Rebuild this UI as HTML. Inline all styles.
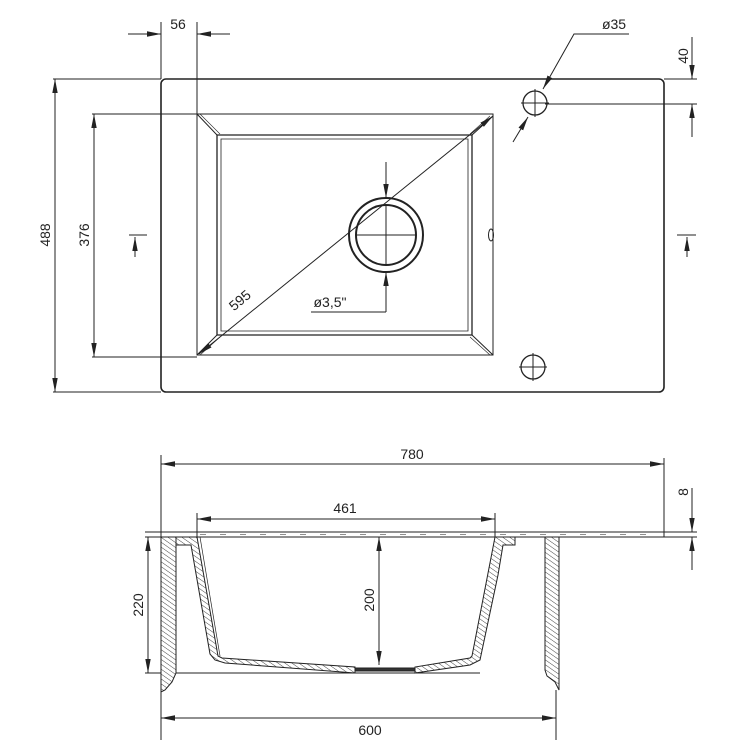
<!DOCTYPE html>
<html><head><style>body{margin:0;background:#fff}svg{display:block}text{font-family:"Liberation Sans",sans-serif;font-size:14px;fill:#222}</style></head>
<body>
<svg width="748" height="751" viewBox="0 0 748 751" xmlns="http://www.w3.org/2000/svg">
<defs>
<marker id="a" viewBox="0 0 14 6" refX="14" refY="3" markerWidth="14" markerHeight="6" markerUnits="userSpaceOnUse" orient="auto-start-reverse"><path d="M0,0.3 L14,3 L0,5.7z" fill="#222"/></marker>
<pattern id="h" width="4" height="4" patternUnits="userSpaceOnUse" patternTransform="rotate(-55)"><rect width="4" height="4" fill="#fff"/><line x1="0" y1="0" x2="0" y2="4" stroke="#444" stroke-width="1"/></pattern>
</defs>
<g stroke="#222" fill="none" stroke-width="1">
<rect x="161" y="79" width="503" height="313" rx="5" stroke-width="1.6"/>
<path d="M197,114 H493 V355 H197 Z"/>
<path d="M217,135 H472 V335 H217 Z" stroke-width="1.3"/>
<path d="M221,139 H468 V331 H221 Z" stroke-width="0.8"/>
<path d="M197,114 L217,135 M493,116 L472,135 M493,355 L472,335 M197,355 L217,335"/>
<path d="M200,114 L220,134 M490,116 L470,134 M490,355 L470,337 M200,355 L220,337" stroke-width="0.6"/>
<circle cx="386" cy="235" r="37" stroke-width="2"/>
<circle cx="386" cy="235" r="30" stroke-width="2"/>
<path d="M356,235 H416 M386,205 V265"/>
<path d="M199,354 L493,116" marker-start="url(#a)" marker-end="url(#a)"/>
<path d="M386,162 V198" marker-end="url(#a)"/>
<path d="M386,312 V272" marker-end="url(#a)"/>
<path d="M311,312 H386"/>
<ellipse cx="491" cy="235" rx="2.5" ry="6"/>
<circle cx="535" cy="103" r="12" stroke-width="1.3"/>
<path d="M521,103 H549 M535,89 V117"/>
<circle cx="533" cy="367" r="12" stroke-width="1.3"/>
<path d="M519,367 H547 M533,353 V381"/>
<path d="M629,34 H574 L543,89" marker-end="url(#a)"/>
<path d="M513,142 L528,117" marker-end="url(#a)"/>
<path d="M664,79 H697 M545,104 H697"/>
<path d="M692,37 V79" marker-end="url(#a)"/>
<path d="M692,137 V104" marker-end="url(#a)"/>
<path d="M161,22 V79 M197,22 V114"/>
<path d="M128,34 H161" marker-end="url(#a)"/>
<path d="M230,34 H197" marker-end="url(#a)"/>
<path d="M53,79 H161 M53,392 H161 M92,114 H197 M92,357 H197"/>
<path d="M55,79 V392" marker-start="url(#a)" marker-end="url(#a)"/>
<path d="M94,114 V357" marker-start="url(#a)" marker-end="url(#a)"/>
<path d="M129,235 H147"/><path d="M135,257 V237" marker-end="url(#a)"/>
<path d="M677,235 H696"/><path d="M687,257 V237" marker-end="url(#a)"/>
<path d="M161,455 V740 M664,458 V537 M556,690 V740"/>
<path d="M161,464 H664" marker-start="url(#a)" marker-end="url(#a)"/>
<path d="M145,532 H697 M145,537 H697"/>
<path d="M200,534.5 H660" stroke-dasharray="6,14" stroke-width="0.6"/>
<path d="M197,513 V537 M495,513 V537"/>
<path d="M197,519 H495" marker-start="url(#a)" marker-end="url(#a)"/>
<path d="M379,537 V665" marker-start="url(#a)" marker-end="url(#a)"/>
<path d="M145,673 H480"/>
<path d="M148,537 V673" marker-start="url(#a)" marker-end="url(#a)"/>
<path d="M161,718 H556" marker-start="url(#a)" marker-end="url(#a)"/>
<path d="M692,488 V532" marker-end="url(#a)"/>
<path d="M692,570 V537" marker-end="url(#a)"/>
<path d="M161,537 H176 V673 L172,682 L165,690 L161,692 Z" fill="url(#h)"/>
<path d="M545,537 H559 V690 L555,682 L547,676 L545,670 Z" fill="url(#h)"/>
<path d="M176,537 H197 L218,656 L222,658 L355,667 V673 L225,663 L215,660 L210,654 L191,545 H176 Z" fill="url(#h)"/>
<path d="M200,537 L220,656" stroke-width="0.7"/>
<path d="M515,537 H495 L472,656 L470,658 L415,667 V673 L470,665 L480,660 L498,575 L503,545 H515 Z" fill="url(#h)"/>
<path d="M355,668 H415 V671 H355 Z" fill="#333"/>
</g>
<text x="178" y="29" text-anchor="middle">56</text>
<text x="614" y="29" text-anchor="middle">ø35</text>
<text transform="translate(688,56) rotate(-90)" text-anchor="middle">40</text>
<text transform="translate(50,235) rotate(-90)" text-anchor="middle">488</text>
<text transform="translate(89,235) rotate(-90)" text-anchor="middle">376</text>
<text transform="translate(243,304) rotate(-40)" text-anchor="middle">595</text>
<text x="330" y="307" text-anchor="middle">ø3,5"</text>
<text x="412" y="459" text-anchor="middle">780</text>
<text x="345" y="513" text-anchor="middle">461</text>
<text transform="translate(374,600) rotate(-90)" text-anchor="middle">200</text>
<text transform="translate(143,605) rotate(-90)" text-anchor="middle">220</text>
<text transform="translate(688,492) rotate(-90)" text-anchor="middle">8</text>
<text x="370" y="735" text-anchor="middle">600</text>
</svg>
</body></html>
